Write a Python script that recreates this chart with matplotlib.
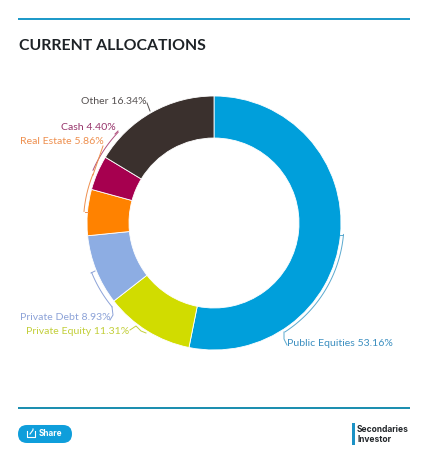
import numpy as np
import matplotlib
matplotlib.use("Agg")
import matplotlib.pyplot as plt
from matplotlib.patches import FancyBboxPatch, Rectangle

W, H = 423, 454
categories = ["Public Equities", "Private Equity", "Private Debt", "Real Estate", "Cash", "Other"]
values = [53.16, 11.31, 8.93, 5.86, 4.40, 16.34]
colors = ["#009fdb", "#d1dc00", "#8dade3", "#ff8200", "#a6004f", "#3a302d"]
text_colors = ["#3c8fc0", "#c3cf3a", "#8da3d8", "#ee8f4e", "#96336a", "#555050"]
label_xy = [(287, 344), (129, 331), (110.5, 317), (103.5, 141), (116, 127), (147, 101)]
label_ha = ["left", "right", "right", "right", "right", "right"]
title = "CURRENT ALLOCATIONS"

# leader arcs, clockwise degrees from 12 o'clock, with their radial gap
leader_arcs = [(95, 147), (230.5, 248), (275, 292), (293.5, 313.5)]
leader_gaps = [3, 5, 3.5, 5]
leader_colors = ["#5aa9cf", "#8da3d8", "#ee8f4e", "#b0517f"]
CX, CY, R, r_in = 214, 223, 127, 85

fig = plt.figure(figsize=(W / 100, H / 100), dpi=100, facecolor="white")
ax = fig.add_axes([0, 0, 1, 1])
Y = lambda y: H - y

ax.pie(values, colors=colors, startangle=90, counterclock=False,
       center=(CX, Y(CY)), radius=R, frame=False,
       wedgeprops=dict(width=R - r_in, edgecolor="white", linewidth=0.6))
ax.set_xlim(0, W)
ax.set_ylim(0, H)
ax.set_aspect("auto")
ax.axis("off")

def polar(a, rad):
    t = np.radians(a)
    return CX + rad * np.sin(t), Y(CY) + rad * np.cos(t)

for (a0, a1), gap, c in zip(leader_arcs, leader_gaps, leader_colors):
    th = np.linspace(a0, a1, 60)
    xs, ys = polar(th, R + gap)
    ax.plot(xs, ys, color=c, lw=0.7, solid_capstyle="round")

# leader ends
ax.plot([340, 343], [Y(235), Y(235)], color=leader_colors[0], lw=0.7)
ax.plot([284, 284, 287], [Y(332), Y(339), Y(345)], color=leader_colors[0], lw=0.7)
ax.plot([112, 113, 110], [Y(307), Y(315), Y(320)], color=leader_colors[1], lw=0.7)
ax.plot([95, 91], [Y(271), Y(273)], color=leader_colors[1], lw=0.7)
ax.plot([130, 136, 141, 146], [Y(330), Y(326), Y(331), Y(333)], color="#c3cf3a", lw=0.7)
ax.plot([147, 150], [Y(103), Y(111)], color="#555050", lw=0.7)
ax.plot([93, 103], [Y(175), Y(146)], color=leader_colors[2], lw=0.7)
ax.plot([118, 115], [Y(131), Y(134)], color=leader_colors[3], lw=0.7)
ax.plot([85, 88], [Y(212), Y(212)], color=leader_colors[2], lw=0.7)

for cat, v, c, (x, y), ha in zip(categories, values, text_colors, label_xy, label_ha):
    ax.text(x, Y(y), f"{cat} {v:.2f}%", color=c, fontsize=7.55, family="Lato",
            ha=ha, va="center")

ax.text(19, Y(46), title, fontsize=11.4, fontweight="bold", family="Lato",
        color="#1d2226", ha="left", va="center")

ax.add_patch(Rectangle((18, Y(20)), 392, 2.2, color="#1f9ac9", lw=0))
ax.add_patch(Rectangle((18, Y(409)), 392, 2.2, color="#1d8fb0", lw=0))

ax.add_patch(FancyBboxPatch((18 + 9, Y(443) + 9), 54 - 18, 0.01,
                            boxstyle="round,pad=9,rounding_size=9",
                            facecolor="#0f9edb", edgecolor="none"))
ax.plot([27, 27, 35, 35], [Y(431), Y(437), Y(437), Y(431)], color="white", lw=0.8)
ax.plot([30, 33, 33], [Y(434), Y(430), Y(429)], color="white", lw=0.8)
ax.text(39, Y(433.5), "Share", color="white", fontsize=5.9, fontweight="bold",
        family="Inter", ha="left", va="center")

ax.add_patch(Rectangle((351.5, Y(445)), 3, 22, color="#1c92c6", lw=0))
ax.text(357, Y(430), "Secondaries", color="#22262a", fontsize=6.05, fontweight="bold",
        family="Inter", ha="left", va="center")
ax.text(357, Y(439), "Investor", color="#22262a", fontsize=6.05, fontweight="bold",
        family="Inter", ha="left", va="center")

fig.savefig("out.png", dpi=100, facecolor="white")
